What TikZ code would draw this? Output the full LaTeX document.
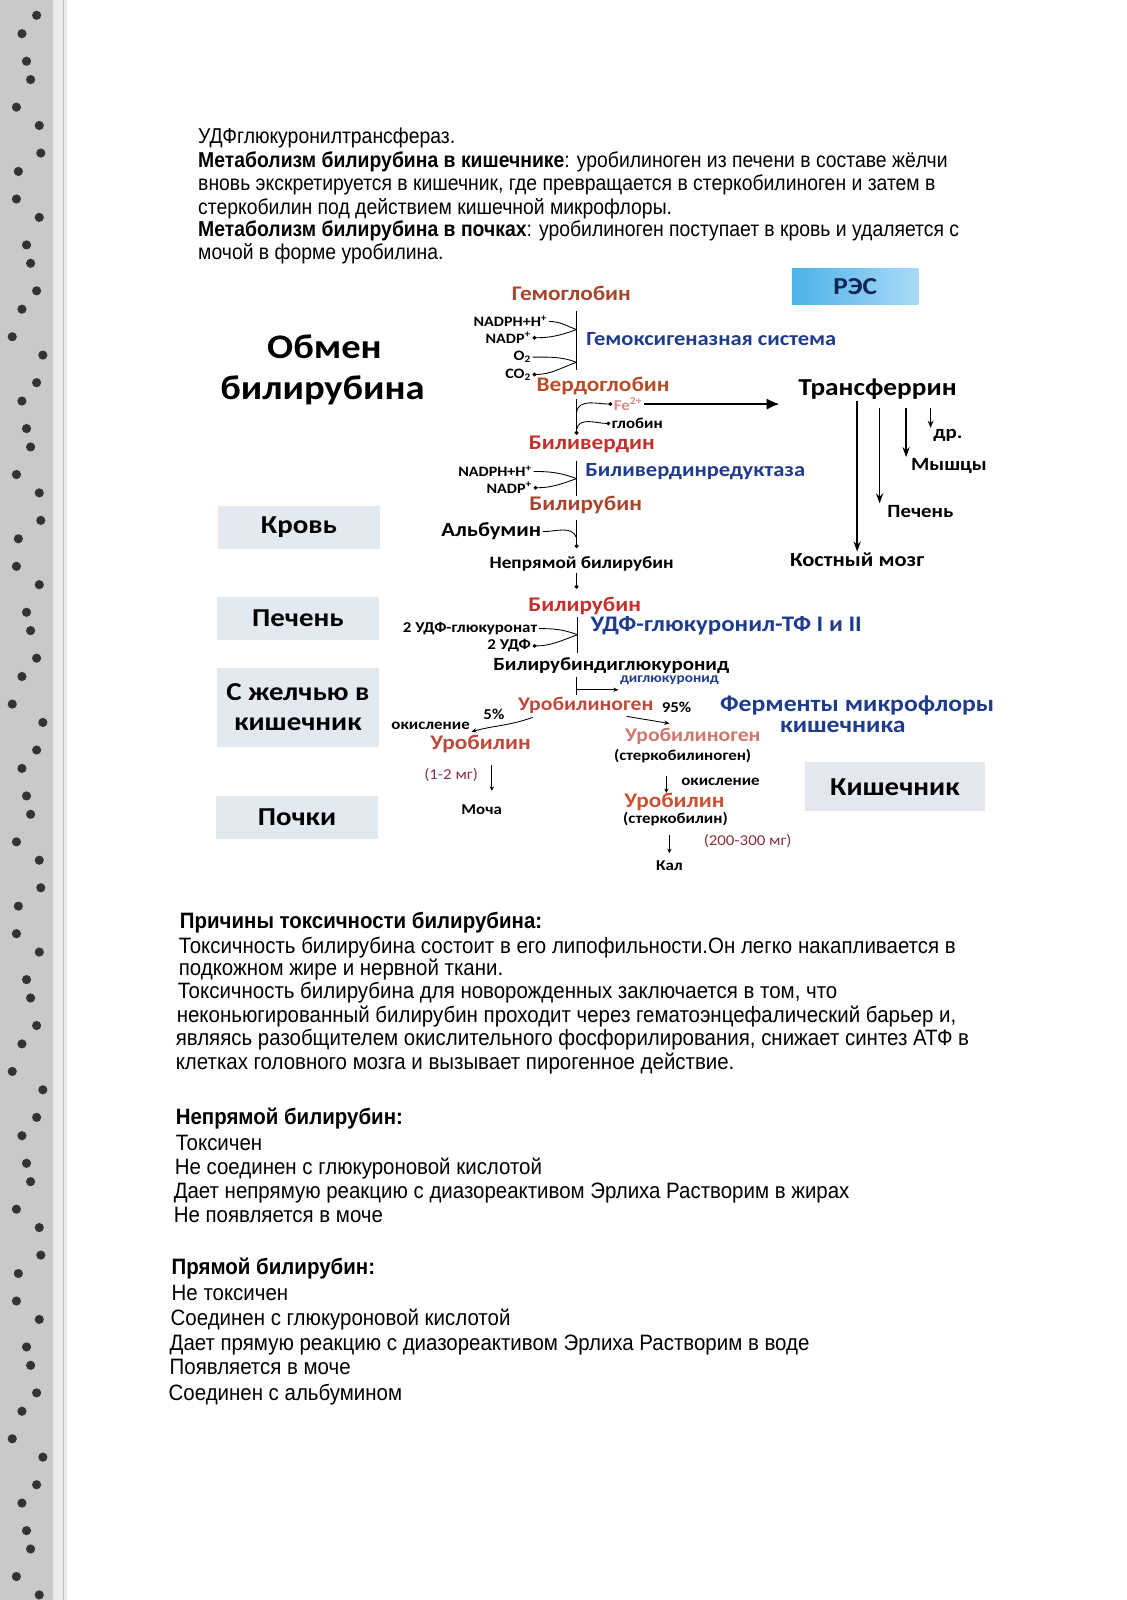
\documentclass[tikz,border=0pt]{standalone}
\usepackage{fontspec}
\setmainfont{Liberation Sans}
\newfontfamily\bodyfont[FakeStretch=0.9]{Liberation Sans}
\newfontfamily\bodyfontb[FakeStretch=0.92]{Liberation Sans}
\newfontfamily\dfont[FakeStretch=1.12]{Carlito}
\usetikzlibrary{arrows.meta}

\definecolor{hemored}{HTML}{A8452F}
\definecolor{bilired}{HTML}{C4302B}
\definecolor{urored}{HTML}{BE4A3C}
\definecolor{enzblue}{HTML}{1E3C8C}
\definecolor{feclr}{HTML}{D98A8A}
\definecolor{mgclr}{HTML}{8A3040}
\definecolor{boxgray}{HTML}{E3E9F1}
\definecolor{kishbox}{HTML}{E4E7ED}
\definecolor{fabric}{HTML}{C9C9C9}
\definecolor{resblue}{HTML}{4CB2EA}
\definecolor{reslight}{HTML}{A9DAF6}

\tikzset{
  body/.style={anchor=base west, inner sep=0pt, text height=0.72em, text depth=0.2em,
    font=\bodyfont\fontsize{15}{17}\selectfont},
  bodyb/.style={anchor=base west, inner sep=0pt, text height=0.72em, text depth=0.2em,
    font=\bodyfontb\fontsize{15.5}{17}\selectfont},
  comp/.style={inner sep=1pt, font=\dfont\bfseries\fontsize{14.5}{16}\selectfont},
  enz/.style={inner sep=1pt, anchor=west, text=enzblue,
    font=\dfont\bfseries\fontsize{14}{16}\selectfont},
  blk/.style={inner sep=1pt, font=\dfont\bfseries\fontsize{13}{15}\selectfont},
  cof/.style={inner sep=1pt, anchor=east, font=\dfont\bfseries\fontsize{10}{11}\selectfont},
  sml/.style={inner sep=1pt, font=\dfont\bfseries\fontsize{10.5}{12}\selectfont},
  labelbox/.style={fill=boxgray, minimum width=3.95cm, minimum height=1.07cm,
    align=center, font=\dfont\bfseries\fontsize{18}{21}\selectfont},
  stem/.style={line width=0.9pt},
  branch/.style={line width=0.6pt},
  dotend/.style={-{Circle[length=2.6pt]}},
  darr/.style={line width=1pt, -{Stealth[length=7pt,width=5pt]}},
  sarr/.style={line width=0.8pt, -{Stealth[length=3pt,width=3pt]}}
}

\begin{document}
\begin{tikzpicture}[x=0.025cm, y=-0.025cm]
  \useasboundingbox (0,0) rectangle (1104,1568);
  \fill[white] (0,0) rectangle (1104,1568);

  % fabric on the left and page edge
  \fill[fabric] (0,0) rectangle (52,1568);
  \foreach \yy in {15,60,105,150,195,240,285,330,375,420,465,510,555,600,645,690,735,780,825,870,915,960,1005,1050,1095,1140,1185,1230,1275,1320,1365,1410,1455,1500,1545}
    \fill[black!80] ({26+14*sin(3*\yy)}, \yy) circle (4.5) ({30-12*sin(3*\yy)}, \yy+18) circle (4.5);
  \fill[black!8] (52,0) rectangle (66,1568);
  \draw[black!25, line width=0.6pt] (62,0) -- (62,1568);

  % top text
  \node[body] (t1) at (194,141) {УДФглюкуронилтрансфераз.};
  \node[body] (t2) at (194,164) {\bfseries Метаболизм билирубина в кишечнике\mdseries: уробилиноген из печени в составе жёлчи};
  \node[body] (t3) at (194,187) {вновь экскретируется в кишечник, где превращается в стеркобилиноген и затем в};
  \node[body] (t4) at (194,210) {стеркобилин под действием кишечной микрофлоры.};
  \node[body] (t5) at (194,232) {\bfseries Метаболизм билирубина в почках\mdseries: уробилиноген поступает в кровь и удаляется с};
  \node[body] (t6) at (194,254) {мочой в форме уробилина.};

  % title and left labels
  \node[inner sep=1pt, font=\dfont\bfseries\fontsize{24}{26}\selectfont] (obmen) at (318,340) {Обмен};
  \node[inner sep=1pt, font=\dfont\bfseries\fontsize{24}{26}\selectfont] (bilirub) at (316,383) {билирубина};
  \node[labelbox] (krov) at (293,517) {Кровь};
  \node[labelbox] (pechen) at (292,606) {Печень};
  \node[labelbox, minimum height=1.93cm] (zhelch) at (292,693) {С желчью в\\кишечник};
  \node[labelbox] (pochki) at (291,801) {Почки};

  % RES box
  \node[left color=resblue, right color=reslight, minimum width=3.1cm, minimum height=0.88cm,
        font=\dfont\bfseries\fontsize{17}{19}\selectfont, text=enzblue!60!black] (res) at (838,281) {РЭС};

  % hemoglobin -> verdoglobin
  \node[comp, text=hemored] (hb) at (560,288) {Гемоглобин};
  \node[cof] (nadph1) at (538,315) {NADPH+H\textsuperscript{+}};
  \node[cof] (nadp1) at (522,331) {NADP\textsuperscript{+}};
  \node[cof] (o2) at (522,350) {O\textsubscript{2}};
  \node[cof] (co2) at (522,367) {CO\textsubscript{2}};
  \coordinate (s1t) at (565,305);
  \coordinate (s1b) at (565,363);
  \coordinate (j1) at (565,323);
  \coordinate (j2) at (565,355);
  \draw[stem] (s1t) -- (s1b);
  \draw[branch] (nadph1.east) to[out=0,in=160] (j1);
  \draw[branch, dotend] (j1) to[out=200,in=0] (nadp1.east);
  \draw[branch] (o2.east) to[out=0,in=160] (j2);
  \draw[branch, dotend] (j2) to[out=200,in=0] (co2.east);
  \node[enz] (hox) at (573,332) {Гемоксигеназная система};
  \node[comp, text=hemored!85!orange] (verd) at (591,378) {Вердоглобин};

  % verdoglobin -> biliverdin
  \coordinate (s2t) at (565,391);
  \coordinate (s2b) at (565,426);
  \coordinate (j3) at (565,404);
  \coordinate (j4) at (565,421);
  \node[sml, anchor=west, text=feclr] (fe) at (600,396) {Fe\textsuperscript{2+}};
  \node[sml, anchor=west] (glob) at (598,415) {глобин};
  \draw[stem, dotend] (s2t) -- (s2b);
  \draw[branch, dotend] (j3) to[out=80,in=180] (fe.west);
  \draw[branch, dotend] (j4) to[out=80,in=180] (glob.west);
  \node[comp, font=\dfont\bfseries\fontsize{17}{19}\selectfont] (transf) at (860,381) {Трансферрин};
  \draw[line width=1.7pt, -{Latex[length=9pt,width=8pt]}, shorten >=12pt] (fe.east) -- (fe.east -| transf.west);

  % transferrin targets
  \node[blk] (dr) at (929,427) {др.};
  \node[blk] (mysh) at (930,457) {Мышцы};
  \node[blk] (pech) at (902,501) {Печень};
  \node[blk, font=\dfont\bfseries\fontsize{14}{16}\selectfont] (kost) at (840,549) {Костный мозг};
  \coordinate (a2) at (862,400);
  \coordinate (a3) at (888,400);
  \coordinate (a4) at (912,400);
  \draw[darr] (kost.north |- transf.south) -- (kost.north);
  \draw[darr] (a2) -- (a2 |- pech.north);
  \draw[darr] (a3) -- (a3 |- mysh.north);
  \draw[line width=0.7pt, -{Stealth[length=5pt,width=4pt]}] (a4) -- (a4 |- dr.north);

  % biliverdin -> bilirubin
  \node[comp, text=bilired] (bv) at (580,436) {Биливердин};
  \node[cof] (nadph2) at (523,462) {NADPH+H\textsuperscript{+}};
  \node[cof] (nadp2) at (523,478) {NADP\textsuperscript{+}};
  \coordinate (s3t) at (565,452);
  \coordinate (s3b) at (565,486);
  \coordinate (j5) at (565,469);
  \draw[stem] (s3t) -- (s3b);
  \draw[branch] (nadph2.east) to[out=0,in=160] (j5);
  \draw[branch, dotend] (j5) to[out=200,in=0] (nadp2.east);
  \node[enz] (bvr) at (572,462) {Биливердинредуктаза};
  \node[comp, text=hemored] (br1) at (574,495) {Билирубин};

  % albumin
  \node[blk, anchor=east, font=\dfont\bfseries\fontsize{14}{16}\selectfont] (alb) at (532,521) {Альбумин};
  \coordinate (s4t) at (565,510);
  \coordinate (s4b) at (565,537);
  \coordinate (j6) at (565,527);
  \draw[stem, dotend] (s4t) -- (s4b);
  \draw[branch] (alb.east) to[out=0,in=110] (j6);
  \node[blk, font=\dfont\bfseries\fontsize{12}{14}\selectfont] (nepr) at (570,553) {Непрямой билирубин};
  \draw[stem, dotend] (nepr.south -| s4b) -- ++(0,15);

  % liver conjugation
  \node[comp, text=bilired] (br2) at (573,594) {Билирубин};
  \node[cof, font=\dfont\bfseries\fontsize{10.5}{12}\selectfont] (udpg) at (528,616) {2 УДФ-глюкуронат};
  \node[cof, font=\dfont\bfseries\fontsize{10.5}{12}\selectfont] (udp) at (522,633) {2 УДФ};
  \coordinate (s6t) at (566,605);
  \coordinate (s6b) at (566,640);
  \coordinate (j7) at (566,622);
  \draw[stem] (s6t) -- (s6b);
  \draw[branch] (udpg.east) to[out=0,in=160] (j7);
  \draw[branch, dotend] (j7) to[out=200,in=0] (udp.east);
  \node[enz, font=\dfont\bfseries\fontsize{15.5}{17}\selectfont] (udptf) at (577,613) {УДФ-глюкуронил-ТФ I и II};
  \node[blk] (bdg) at (599,652) {Билирубиндиглюкуронид};

  % intestine
  \node[sml, anchor=west, text=enzblue, font=\dfont\bfseries\fontsize{9.5}{11}\selectfont] (diglu) at (606,667) {диглюкуронид};
  \coordinate (s7t) at (565,663);
  \coordinate (s7b) at (565,681);
  \coordinate (j8) at (565,676);
  \draw[stem] (s7t) -- (s7b);
  \draw[branch, -{Stealth[length=3.5pt,width=3pt]}] (j8) -- (j8 -| diglu.west);
  \node[comp, text=urored, font=\dfont\bfseries\fontsize{13.5}{15}\selectfont] (ug1) at (574,691) {Уробилиноген};
  \node[sml] (p5) at (484,700) {5\%};
  \node[sml] (p95) at (663,693) {95\%};
  \node[enz, anchor=center, font=\dfont\bfseries\fontsize{16}{18}\selectfont] (ferm1) at (840,691) {Ферменты микрофлоры};
  \node[enz, anchor=center, font=\dfont\bfseries\fontsize{16}{18}\selectfont] (ferm2) at (826,712) {кишечника};
  \node[sml] (ok1) at (422,711) {окисление};
  \coordinate (e5s) at (522,703);
  \coordinate (e5e) at (462,717);
  \coordinate (e95s) at (614,702);
  \coordinate (e95e) at (656,709);
  \draw[branch, -{Stealth[length=3.5pt,width=3pt]}] (e5s) to[out=200,in=15] (e5e);
  \draw[branch, -{Stealth[length=3.5pt,width=3pt]}] (e95s) -- (e95e);

  % urine branch
  \node[comp, text=urored] (ubl1) at (471,729) {Уробилин};
  \node[inner sep=1pt, anchor=east, text=mgclr, font=\dfont\fontsize{10.5}{12}\selectfont] (mg1) at (470,760) {(1-2 мг)};
  \coordinate (s8t) at (482,750);
  \coordinate (s8b) at (482,775);
  \draw[stem, -{Stealth[length=3pt,width=3pt]}] (s8t) -- (s8b);
  \node[sml] (mocha) at (472,793) {Моча};

  % faeces branch
  \node[comp, text=urored!75, font=\dfont\bfseries\fontsize{13.5}{15}\selectfont] (ug2) at (679,722) {Уробилиноген};
  \node[sml] (sterk1) at (669,741) {(стеркобилиноген)};
  \coordinate (s9t) at (653,760);
  \coordinate (s9b) at (653,777);
  \draw[stem, -{Stealth[length=3pt,width=3pt]}] (s9t) -- (s9b);
  \node[sml, anchor=west] (ok2) at (666,766) {окисление};
  \node[fill=kishbox, minimum width=4.42cm, minimum height=1.2cm,
        font=\dfont\bfseries\fontsize{18}{21}\selectfont] (kish) at (877,771) {Кишечник};
  \node[comp, text=urored!85!orange] (ubl2) at (661,786) {Уробилин};
  \node[sml] (sterk2) at (662,803) {(стеркобилин)};
  \coordinate (s10t) at (656,818);
  \coordinate (s10b) at (656,836);
  \draw[stem, -{Stealth[length=3pt,width=3pt]}] (s10t) -- (s10b);
  \node[inner sep=1pt, anchor=west, text=mgclr, font=\dfont\fontsize{10.5}{12}\selectfont] (mg2) at (688,824) {(200-300 мг)};
  \node[sml] (kal) at (656,848) {Кал};

  % toxicity text
  \node[bodyb] (b1) at (176,910) {\bfseries Причины токсичности билирубина:};
  \node[bodyb] (b2) at (175,934) {Токсичность билирубина состоит в его липофильности.Он легко накапливается в};
  \node[bodyb] (b3) at (175,956) {подкожном жире и нервной ткани.};
  \node[bodyb] (b4) at (174,979) {Токсичность билирубина для новорожденных заключается в том, что};
  \node[bodyb] (b5) at (173,1002) {неконьюгированный билирубин проходит через гематоэнцефалический барьер и,};
  \node[bodyb] (b6) at (172,1025) {являясь разобщителем окислительного фосфорилирования, снижает синтез АТФ в};
  \node[bodyb] (b7) at (172,1048) {клетках головного мозга и вызывает пирогенное действие.};

  % indirect bilirubin
  \node[bodyb] (n1) at (172,1102) {\bfseries Непрямой билирубин:};
  \node[bodyb] (n2) at (172,1127) {Токсичен};
  \node[bodyb] (n3) at (171,1151) {Не соединен с глюкуроновой кислотой};
  \node[bodyb] (n4) at (170,1175) {Дает непрямую реакцию с диазореактивом Эрлиха Растворим в жирах};
  \node[bodyb] (n5) at (170,1198) {Не появляется в моче};

  % direct bilirubin
  \node[bodyb] (d1) at (168,1249) {\bfseries Прямой билирубин:};
  \node[bodyb] (d2) at (168,1274) {Не токсичен};
  \node[bodyb] (d3) at (167,1299) {Соединен с глюкуроновой кислотой};
  \node[bodyb] (d4) at (166,1323) {Дает прямую реакцию с диазореактивом Эрлиха Растворим в воде};
  \node[bodyb] (d5) at (166,1347) {Появляется в моче};
  \node[bodyb] (d6) at (165,1372) {Соединен с альбумином};
\end{tikzpicture}
\end{document}
